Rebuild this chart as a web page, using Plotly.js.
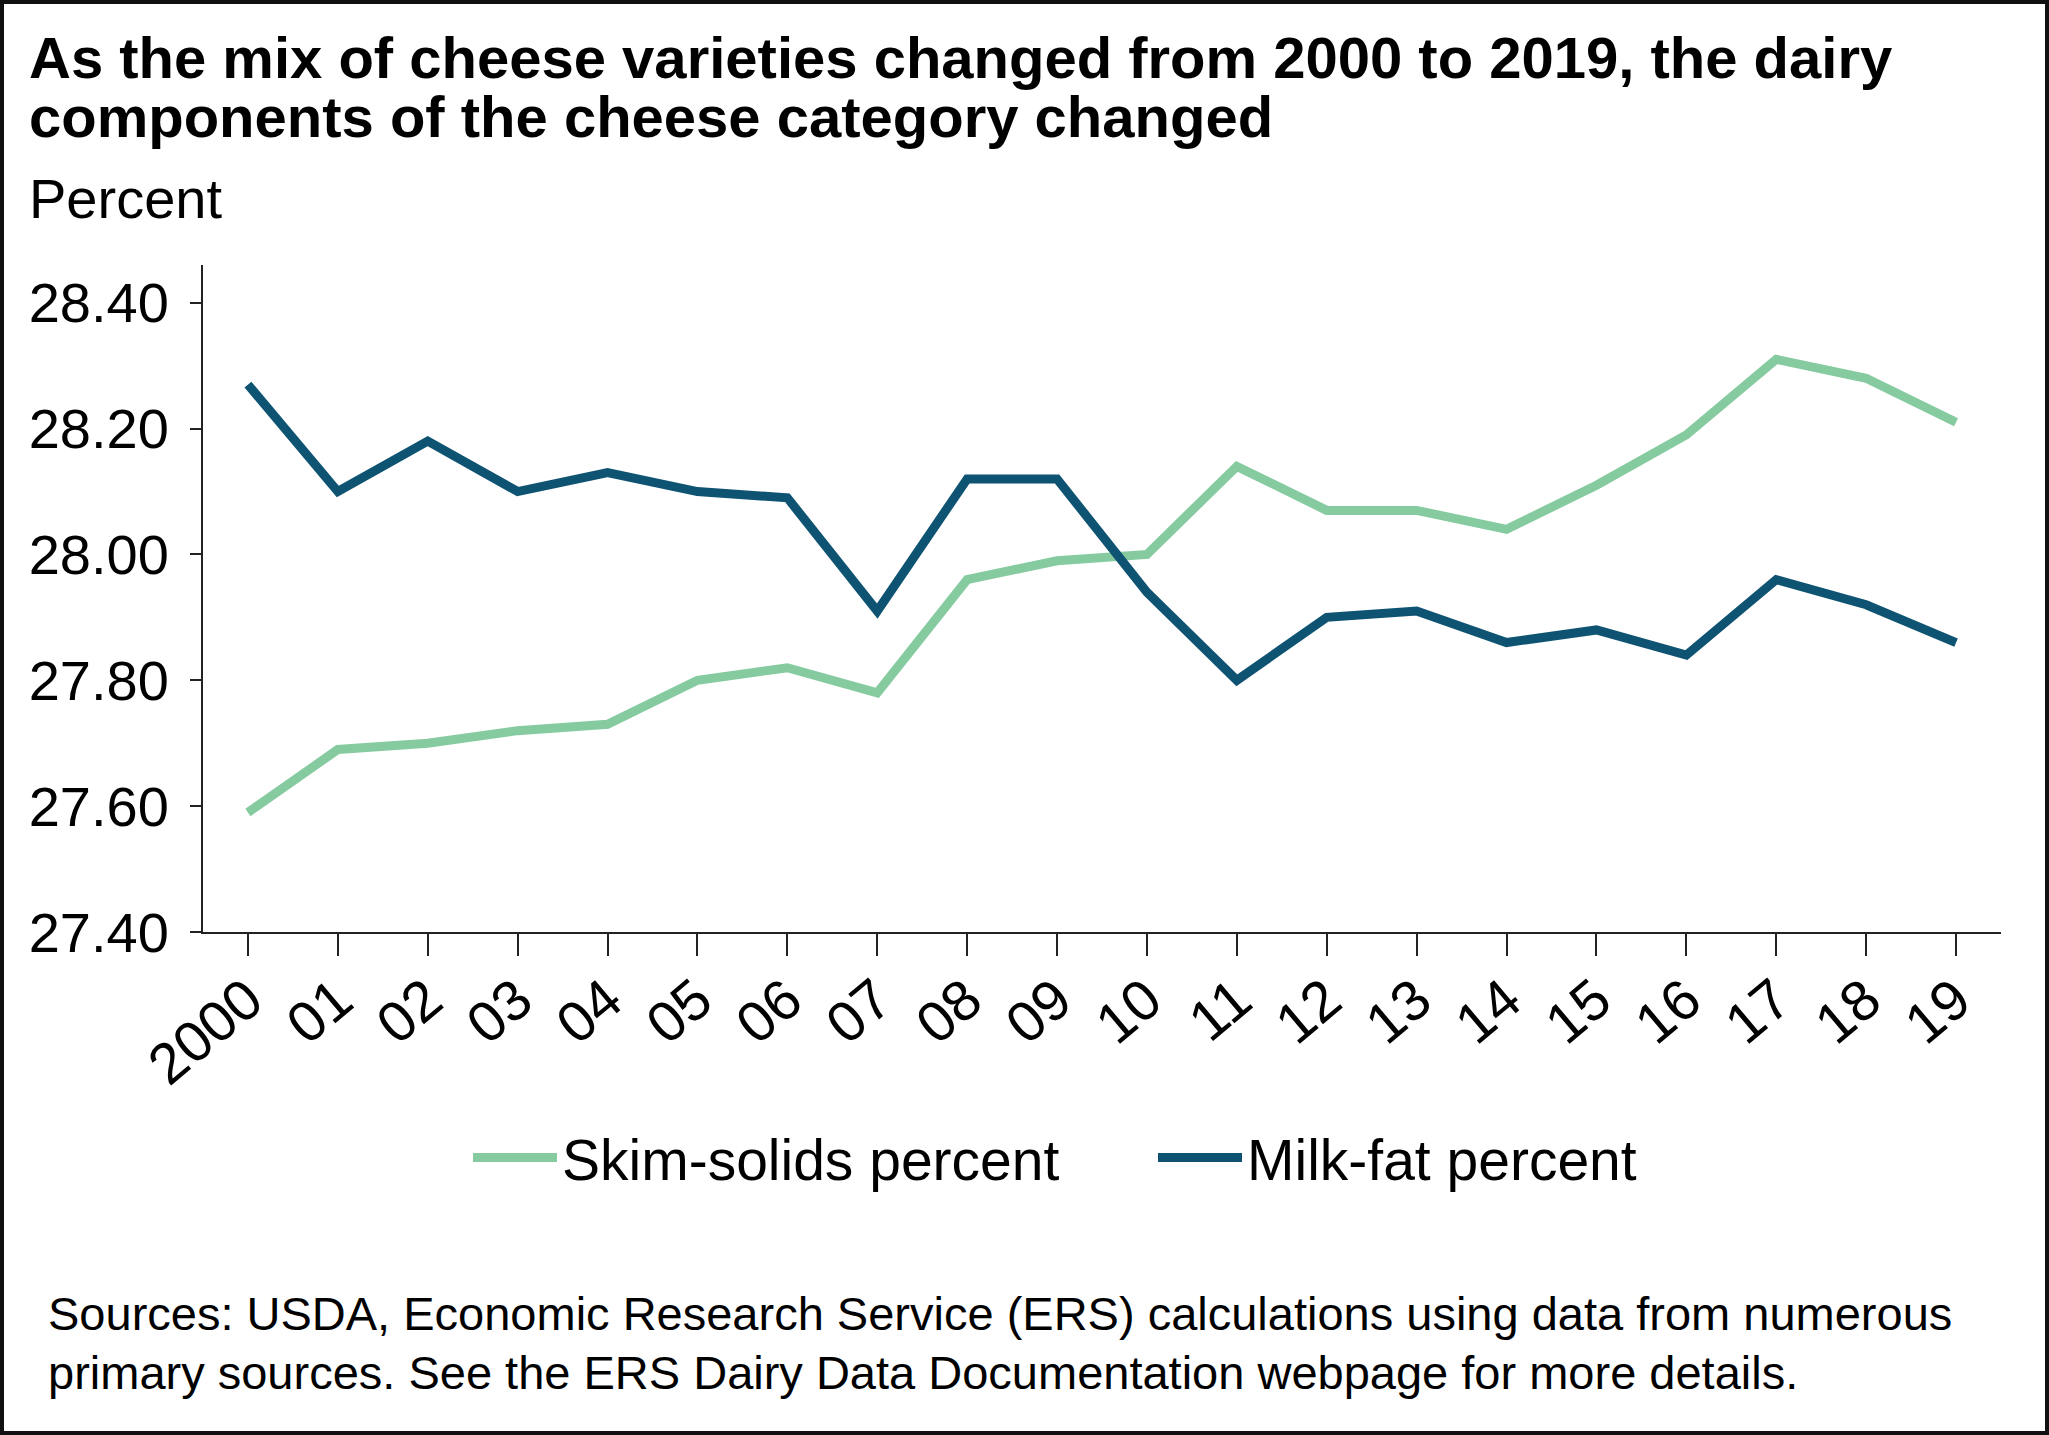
<!DOCTYPE html>
<html>
<head>
<meta charset="utf-8">
<script src="https://cdn.plot.ly/plotly-3.0.1.min.js"></script>
<style>
html,body{margin:0;padding:0;background:#fff;}
#chart{width:2049px;height:1435px;}
</style>
</head>
<body>
<div id="chart"></div>
<script>
// ---- Data ----
var yearLabels = ["2000","01","02","03","04","05","06","07","08","09","10","11","12","13","14","15","16","17","18","19"];
var skimSolids = [27.59,27.69,27.70,27.72,27.73,27.80,27.82,27.78,27.96,27.99,28.00,28.14,28.07,28.07,28.04,28.11,28.19,28.31,28.28,28.21];
var milkFat    = [28.27,28.10,28.18,28.10,28.13,28.10,28.09,27.91,28.12,28.12,27.94,27.80,27.90,27.91,27.86,27.88,27.84,27.96,27.92,27.86];
var yTicks = [27.40,27.60,27.80,28.00,28.20,28.40];
var seriesNames = ["Skim-solids percent","Milk-fat percent"];
var titleLines = ["As the mix of cheese varieties changed from 2000 to 2019, the dairy","components of the cheese category changed"];
var yUnit = "Percent";
var sourceLines = ["Sources: USDA, Economic Research Service (ERS) calculations using data from numerous","primary sources. See the ERS Dairy Data Documentation webpage for more details."];

// ---- Layout geometry (pixels) ----
var W = 2049, H = 1435;
var L = 203, R = 48, T = 265, B = 503;
var pw = W - L - R, ph = H - T - B;
function px(x){ return (x - L) / pw; }
function py(y){ return (H - B - y) / ph; }

var FONT = "'Liberation Sans', Arial, sans-serif";

var traces = [
  {x: yearLabels, y: skimSolids, name: seriesNames[0], type: "scatter", mode: "lines",
   line: {color: "#86CBA0", width: 9}},
  {x: yearLabels, y: milkFat, name: seriesNames[1], type: "scatter", mode: "lines",
   line: {color: "#0F5372", width: 9}}
];

var annotations = [
  {text: "<b>" + titleLines[0] + "</b>", x: px(27), y: py(57), size: 58},
  {text: "<b>" + titleLines[1] + "</b>", x: px(27), y: py(116), size: 58},
  {text: yUnit, x: px(27), y: py(199), size: 56},
  {text: sourceLines[0], x: px(46), y: py(1313), size: 47},
  {text: sourceLines[1], x: px(46), y: py(1372), size: 47}
].map(function(a){
  return {text: a.text, x: a.x, y: a.y, xref: "paper", yref: "paper",
    xanchor: "left", yanchor: "middle", showarrow: false,
    font: {family: FONT, size: a.size, color: "#000"}};
});

var layout = {
  width: W, height: H,
  margin: {l: L, r: R, t: T, b: B, pad: 0},
  paper_bgcolor: "#fff", plot_bgcolor: "#fff",
  font: {family: FONT, color: "#000"},
  showlegend: true,
  legend: {orientation: "h", x: px(468), y: py(1158), xanchor: "left", yanchor: "middle",
    font: {family: FONT, size: 57, color: "#000"}, itemwidth: 84, entrywidth: 586, entrywidthmode: "pixels",
    bgcolor: "rgba(0,0,0,0)"},
  xaxis: {type: "category", range: [-0.5, 19.5], showgrid: false, zeroline: false,
    showline: true, linecolor: "#222", linewidth: 2,
    ticks: "outside", ticklen: 22, tickwidth: 2, tickcolor: "#222", ticklabelstandoff: -12,
    tickangle: -40, tickfont: {family: FONT, size: 57, color: "#000"}, fixedrange: true},
  yaxis: {range: [27.40, 28.46], tickvals: yTicks, ticktext: yTicks.map(function(v){return v.toFixed(2);}),
    showgrid: false, zeroline: false, showline: true, linecolor: "#222", linewidth: 2,
    ticks: "outside", ticklen: 11, tickwidth: 2, tickcolor: "#222", ticklabelstandoff: 10,
    tickfont: {family: FONT, size: 56, color: "#000"}, fixedrange: true},
  annotations: annotations,
  shapes: [{type: "rect", xref: "paper", yref: "paper",
    x0: px(2), x1: px(W - 2), y0: py(H - 2), y1: py(2),
    line: {color: "#111", width: 4}, fillcolor: "rgba(0,0,0,0)", layer: "above"}]
};

Plotly.newPlot("chart", traces, layout, {displayModeBar: false, staticPlot: true});
</script>
</body>
</html>
